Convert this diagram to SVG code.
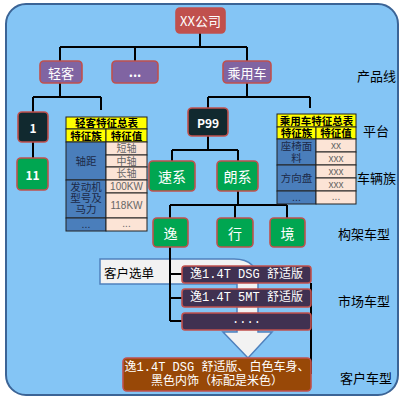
<svg xmlns="http://www.w3.org/2000/svg" width="406" height="400" viewBox="0 0 406 400">
<style>
.n rect{stroke:#C0504D;stroke-width:1.6}
.t{font-family:"Noto Sans CJK SC","Liberation Sans",sans-serif;fill:#fff;text-anchor:middle;dominant-baseline:central}
.lbl{font-family:"Noto Sans CJK SC","Liberation Sans",sans-serif;fill:#000;font-size:13px;dominant-baseline:central}
.ln{stroke:#000;stroke-width:2;fill:none}
.ty{fill:#FFFF00;stroke:#222;stroke-width:1}
.tb{fill:#4A7EBB;stroke:#222;stroke-width:1}
.tp{fill:#FCE4D6;stroke:#222;stroke-width:1}
.tt{font-family:"Liberation Sans","Noto Sans CJK SC",sans-serif;font-size:10.5px;font-weight:bold;fill:#000;text-anchor:middle;dominant-baseline:central}
.tl{font-family:"Liberation Sans","Noto Sans CJK SC",sans-serif;font-size:10.5px;fill:#1C2A48;text-anchor:middle;dominant-baseline:central}
.tr{font-family:"Liberation Sans","Noto Sans CJK SC",sans-serif;font-size:10px;fill:#666;text-anchor:middle;dominant-baseline:central}
.m{font-family:"Liberation Mono","Noto Sans CJK SC",monospace;font-size:12px;fill:#fff;text-anchor:middle;dominant-baseline:central}
</style>
<rect x="6" y="4" width="392" height="391" rx="20" fill="#84C5F5" stroke="#3B6496" stroke-width="2"/>

<g id="customer-menu-arrow">
<path d="M100,259 H234 Q258,259 258,283 V332 H272 L248,358 L223,332 H237 V284 H100 Z" fill="#F2F2F2" stroke="#4F81BD" stroke-width="1.5"/>
<text x="104" y="272" class="lbl" style="font-size:12.5px">客户选单</text>
</g>

<g id="connectors">
<path class="ln" d="M200,33 V47 M60,47 H247 M60,47 V61 M135,47 V61 M247,47 V61"/>
<path class="ln" d="M60,83 V97 M33,97 H101 M33,97 V112 M101,97 V110"/>
<path class="ln" d="M247,83 V97 M208,97 H310 M208,97 V108 M310,97 V108"/>
<path class="ln" d="M33,142 V158"/>
<path class="ln" d="M208,136 V150 M172,150 H238 M172,150 V161 M238,150 V161"/>
<path class="ln" d="M238,191 V205 M170,205 H287 M170,205 V218 M235,205 V218 M287,205 V218"/>
<path class="ln" d="M170,247 V321 M170,274 H182 M170,298 H182 M170,321 H182"/>
<path class="ln" d="M311,283 V374" stroke-width="1.5"/>
</g>

<g id="xx" class="n"><rect x="176" y="8" width="49" height="25" rx="4" fill="#C0504D"/><text x="200.5" y="20.5" class="t" font-size="13">XX公司</text></g>
<g id="qingke" class="n"><rect x="40" y="61" width="42" height="22" rx="4" fill="#8064A2"/><text x="61" y="72" class="t" font-size="13">轻客</text></g>
<g id="dots" class="n"><rect x="112" y="61" width="46" height="22" rx="4" fill="#8064A2"/><text x="135" y="71" class="t" font-size="13" font-weight="bold">...</text></g>
<g id="chengyongche" class="n"><rect x="223" y="61" width="48" height="22" rx="4" fill="#8064A2"/><text x="247" y="72" class="t" font-size="13">乘用车</text></g>

<g id="p1" class="n"><rect x="18" y="112" width="30" height="30" rx="4" fill="#11292F"/><text x="33" y="127" class="t" font-size="12" font-weight="bold">1</text></g>
<g id="p11" class="n"><rect x="17" y="158" width="31" height="32" rx="4" fill="#00A651"/><text x="32.5" y="174" class="t" font-size="12" font-weight="bold">11</text></g>
<g id="p99" class="n"><rect x="188" y="108" width="40" height="28" rx="4" fill="#11292F"/><text x="208" y="122" class="t" font-size="12" font-weight="bold">P99</text></g>
<g id="suxi" class="n"><rect x="149" y="161" width="46" height="30" rx="4" fill="#00A651"/><text x="172" y="176" class="t" font-size="14">速系</text></g>
<g id="langxi" class="n"><rect x="217" y="161" width="41" height="30" rx="4" fill="#00A651"/><text x="237.5" y="176" class="t" font-size="14">朗系</text></g>
<g id="yi" class="n"><rect x="153" y="218" width="35" height="29" rx="4" fill="#00A651"/><text x="170.5" y="232.5" class="t" font-size="14">逸</text></g>
<g id="xing" class="n"><rect x="217" y="218" width="36" height="29" rx="4" fill="#00A651"/><text x="235" y="232.5" class="t" font-size="14">行</text></g>
<g id="jing" class="n"><rect x="270" y="218" width="35" height="29" rx="4" fill="#00A651"/><text x="287.5" y="232.5" class="t" font-size="14">境</text></g>

<g id="table-qingke">
<rect class="ty" x="66" y="117" width="81" height="12"/><text class="tt" x="106.5" y="123">轻客特征总表</text>
<rect class="ty" x="66" y="129" width="40" height="13"/><text class="tt" x="86" y="135.5">特征族</text>
<rect class="ty" x="106" y="129" width="41" height="13"/><text class="tt" x="126.5" y="135.5">特征值</text>
<rect class="tb" x="66" y="142" width="40" height="38"/><text class="tl" x="86" y="161">轴距</text>
<rect class="tb" x="66" y="180" width="40" height="38"/><text class="tl" x="86" y="187">发动机<tspan x="86" dy="11">型号及</tspan><tspan x="86" dy="11">马力</tspan></text>
<rect class="tb" x="66" y="218" width="40" height="13"/><text class="tl" x="86" y="223.5">...</text>
<rect class="tp" x="106" y="142" width="41" height="13"/><text class="tr" x="126.5" y="148.5">短轴</text>
<rect class="tp" x="106" y="155" width="41" height="12"/><text class="tr" x="126.5" y="161">中轴</text>
<rect class="tp" x="106" y="167" width="41" height="13"/><text class="tr" x="126.5" y="173.5">长轴</text>
<rect class="tp" x="106" y="180" width="41" height="13"/><text class="tr" x="126.5" y="186.5">100KW</text>
<rect class="tp" x="106" y="193" width="41" height="25"/><text class="tr" x="126.5" y="205.5">118KW</text>
<rect class="tp" x="106" y="218" width="41" height="13"/><text class="tr" x="126.5" y="223.5">...</text>
</g>

<g id="table-chengyongche">
<rect class="ty" x="277" y="114" width="79" height="13"/><text class="tt" x="316.5" y="120.5">乘用车特征总表</text>
<rect class="ty" x="277" y="127" width="39" height="12"/><text class="tt" x="296.5" y="133">特征族</text>
<rect class="ty" x="316" y="127" width="40" height="12"/><text class="tt" x="336" y="133">特征值</text>
<rect class="tb" x="277" y="139" width="39" height="26"/><text class="tl" x="296.5" y="146">座椅面<tspan x="296.5" dy="12">料</tspan></text>
<rect class="tb" x="277" y="165" width="39" height="26"/><text class="tl" x="296.5" y="178">方向盘</text>
<rect class="tb" x="277" y="191" width="39" height="13"/><text class="tl" x="296.5" y="196.5">...</text>
<rect class="tp" x="316" y="139" width="40" height="13"/><text class="tr" x="336" y="145.5">xx</text>
<rect class="tp" x="316" y="152" width="40" height="13"/><text class="tr" x="336" y="158.5">xxx</text>
<rect class="tp" x="316" y="165" width="40" height="13"/><text class="tr" x="336" y="171.5">xxx</text>
<rect class="tp" x="316" y="178" width="40" height="13"/><text class="tr" x="336" y="184.5">xxx</text>
<rect class="tp" x="316" y="191" width="40" height="13"/><text class="tr" x="336" y="196.5">...</text>
</g>

<g id="m1" class="n"><rect x="182" y="266" width="129" height="17" rx="3" fill="#403151"/><text class="m" x="246.5" y="274.5">逸1.4T DSG 舒适版</text></g>
<g id="m2" class="n"><rect x="182" y="289" width="129" height="18" rx="3" fill="#403151"/><text class="m" x="246.5" y="298">逸1.4T 5MT 舒适版</text></g>
<g id="m3" class="n"><rect x="182" y="313" width="129" height="17" rx="3" fill="#403151"/><text class="m" x="246.5" y="320">....</text></g>

<g id="customer" class="n"><rect x="123" y="358" width="188" height="33" rx="4" fill="#984807"/>
<text class="m" x="217" y="367.5">逸1.4T DSG 舒适版、白色车身、</text>
<text class="m" x="217" y="382">黑色内饰（标配是米色）</text></g>

<g id="labels">
<text class="lbl" x="357" y="75">产品线</text>
<text class="lbl" x="363" y="130">平台</text>
<text class="lbl" x="357" y="177">车辆族</text>
<text class="lbl" x="338" y="233">构架车型</text>
<text class="lbl" x="338" y="300">市场车型</text>
<text class="lbl" x="340" y="377">客户车型</text>
</g>
</svg>
